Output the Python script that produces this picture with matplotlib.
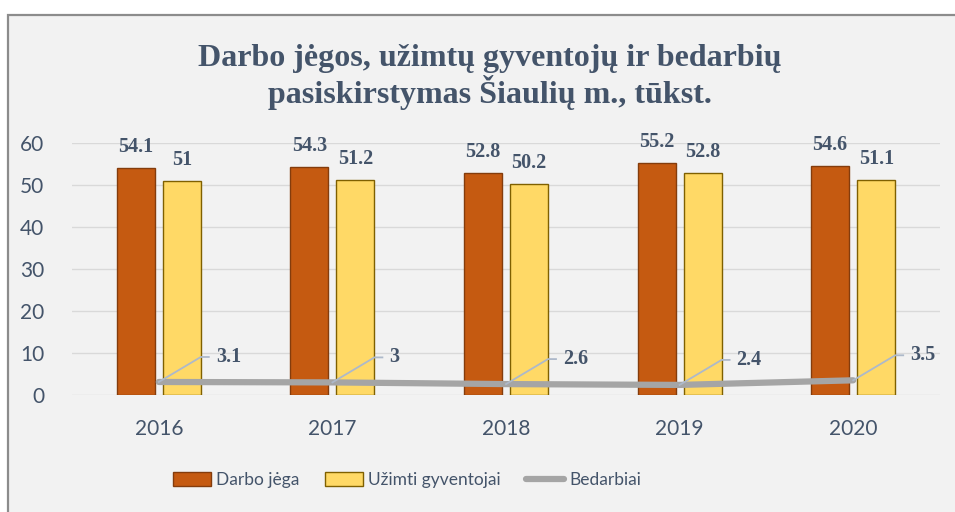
import numpy as np
import matplotlib
matplotlib.use('Agg')
import matplotlib.pyplot as plt
from matplotlib.patches import Rectangle, Patch
from matplotlib.lines import Line2D

years = ['2016', '2017', '2018', '2019', '2020']
darbo_jega = [54.1, 54.3, 52.8, 55.2, 54.6]
uzimti = [51, 51.2, 50.2, 52.8, 51.1]
bedarbiai = [3.1, 3, 2.6, 2.4, 3.5]
bedarbiai_txt = ['3.1', '3', '2.6', '2.4', '3.5']

title = 'Darbo jėgos, užimtų gyventojų ir bedarbių\npasiskirstymas Šiaulių m., tūkst.'

txt_col = '#44546A'
sans = ['Lato', 'DejaVu Sans']
serif = ['Liberation Serif', 'DejaVu Serif']

fig = plt.figure(figsize=(9.55, 5.12), dpi=100)
fig.patch.set_facecolor('white')
# chart frame (light grey area with grey border on top / left)
fig.add_artist(Rectangle((8/955, -0.1), 1.1, (1 - 15/512) + 0.1, transform=fig.transFigure,
                         facecolor='#F2F2F2', edgecolor='#8C8C8C', lw=1.6, zorder=-10))

ax = fig.add_axes([72/955, 1 - 395/512, (940 - 72)/955, (395 - 143)/512])
ax.set_facecolor('none')

x = np.arange(len(years))
w = 0.219
off = 0.1326
ax.bar(x - off, darbo_jega, w, color='#C55A11', edgecolor='#843C0C', lw=1.0, zorder=3)
ax.bar(x + off, uzimti, w, color='#FFD966', edgecolor='#7F6000', lw=1.0, zorder=3)
ax.plot(x, bedarbiai, color='#A5A5A5', lw=4.5, solid_capstyle='round', zorder=4)

ax.set_xlim(-0.5, 4.5)
ax.set_ylim(0, 60)
ax.set_yticks(range(0, 61, 10))
ax.set_xticks(x)
ax.set_xticklabels(years)
ax.grid(axis='y', color='#D9D9D9', lw=1.0, zorder=0)
for s in ax.spines.values():
    s.set_visible(False)
ax.tick_params(length=0, labelsize=15, colors=txt_col)
ax.tick_params(axis='x', pad=17)
ax.tick_params(axis='y', pad=20)
for lab in ax.get_xticklabels() + ax.get_yticklabels():
    lab.set_family(sans)

# bar value labels
for xs, vals in ((x - off, darbo_jega), (x + off, uzimti)):
    for xi, v in zip(xs, vals):
        ax.annotate('{:g}'.format(v), (xi, v), xytext=(0, 11), textcoords='offset pixels',
                    ha='center', va='bottom', fontsize=14.5, fontweight='bold',
                    family=serif, color=txt_col, zorder=5)

# line labels with leader lines
for xi, v, t in zip(x, bedarbiai, bedarbiai_txt):
    p0 = ax.transData.transform((xi, v))
    pts = np.array([p0, p0 + [42, 25], p0 + [50, 25]])
    d = ax.transData.inverted().transform(pts)
    ax.plot(d[:, 0], d[:, 1], color='#ADB9CA', lw=1.3, zorder=5)
    ax.annotate(t, (xi, v), xytext=(57, 25), textcoords='offset pixels',
                ha='left', va='center', fontsize=14.5, fontweight='bold',
                family=serif, color=txt_col, zorder=5)

fig.text(490/955, 1 - 77/512, title, ha='center', va='center', fontsize=23,
         fontweight='bold', family=serif, color=txt_col, linespacing=1.1)

handles = [Patch(facecolor='#C55A11', edgecolor='#843C0C', lw=1.0),
           Patch(facecolor='#FFD966', edgecolor='#7F6000', lw=1.0),
           Line2D([], [], color='#A5A5A5', lw=4.5, solid_capstyle='round')]
leg = fig.legend(handles, ['Darbo jėga', 'Užimti gyventojai', 'Bedarbiai'],
                 loc='center', bbox_to_anchor=(407/955, 1 - 480/512), ncol=3,
                 frameon=False, handlelength=2.2, handleheight=0.8, handletextpad=0.3,
                 columnspacing=1.45, prop={'family': sans, 'size': 12.5})
for t in leg.get_texts():
    t.set_color(txt_col)

fig.savefig('out.png', dpi=100)
